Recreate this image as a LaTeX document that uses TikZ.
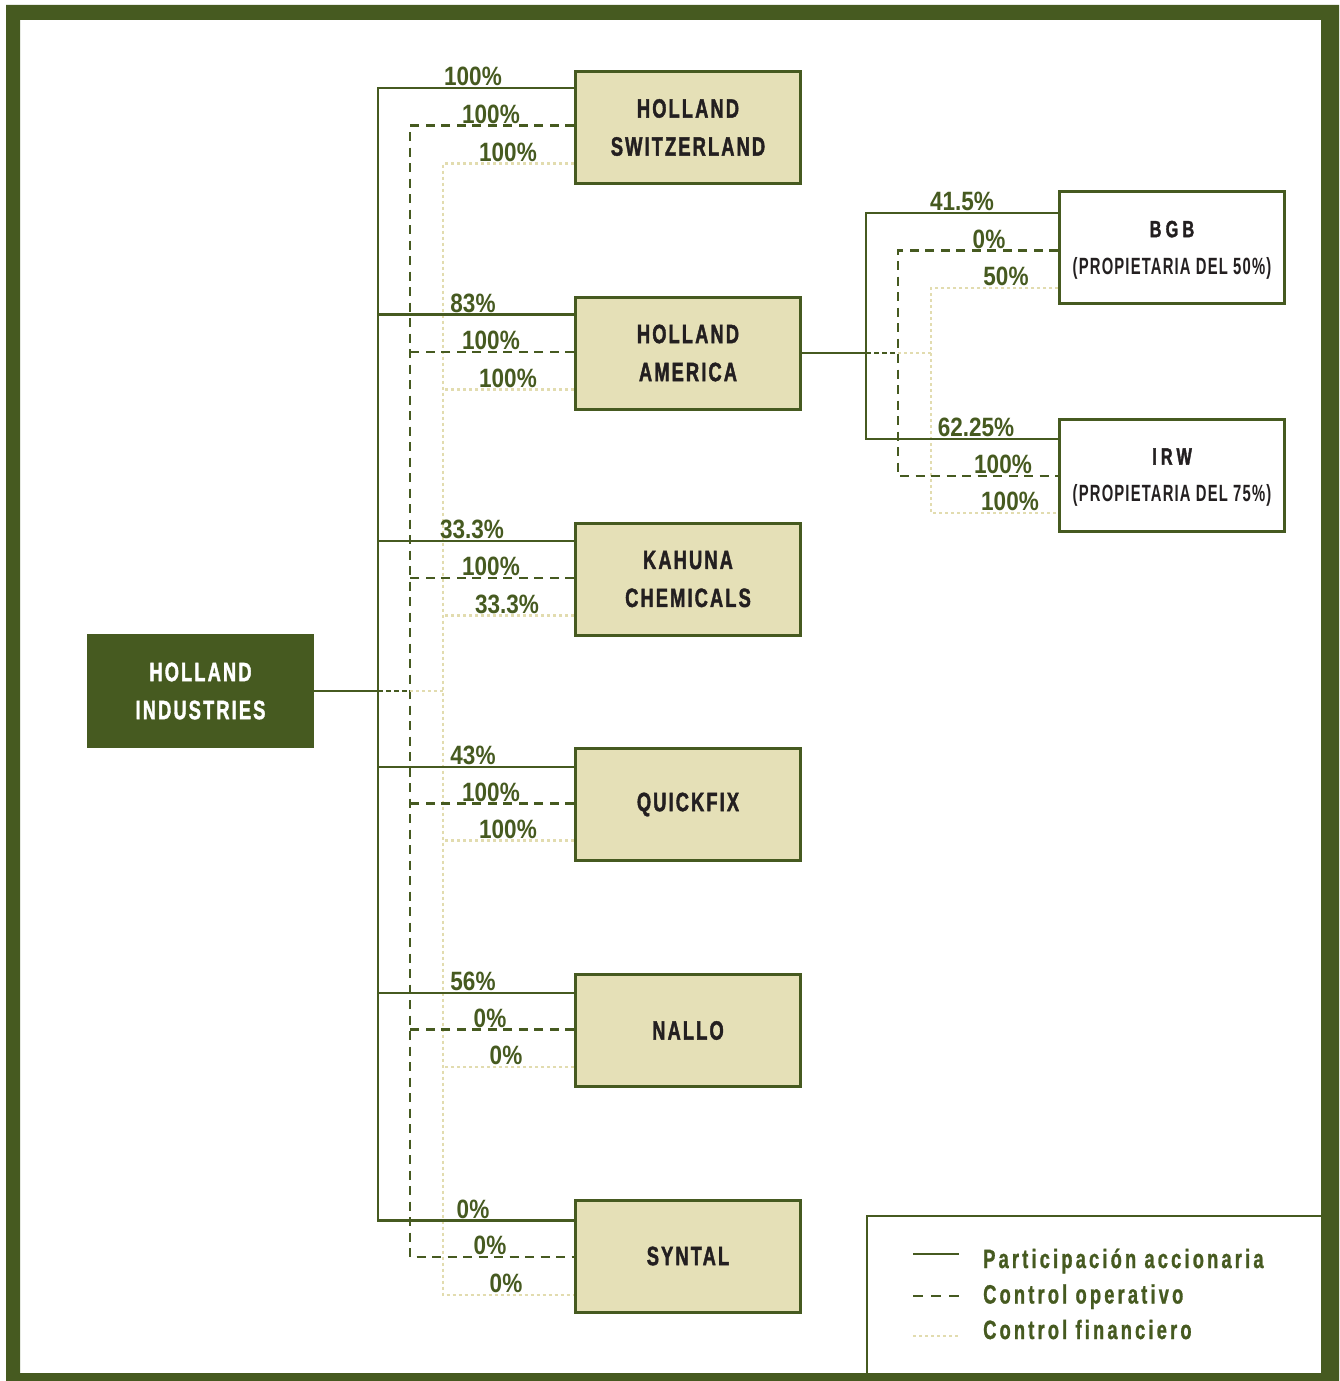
\documentclass[tikz,border=0pt]{standalone}
\usepackage{fontspec}
\setmainfont{Liberation Sans}
\newfontfamily\pctfont{Liberation Sans}[FakeStretch=0.85]
\newfontfamily\boxfont{Liberation Sans}[FakeStretch=0.69,LetterSpace=8,FakeBold=1.5]
\newfontfamily\subfont{Liberation Sans}[FakeStretch=0.63,LetterSpace=5]
\newfontfamily\codefont{Liberation Sans}[FakeStretch=0.69,LetterSpace=18,FakeBold=1.5]
\newfontfamily\legfont{Liberation Sans}[FakeStretch=0.69,LetterSpace=12,FakeBold=1]
\usetikzlibrary{calc}
\definecolor{dkgreen}{HTML}{465A20}
\definecolor{boxfill}{HTML}{E5E0B7}
\definecolor{finc}{HTML}{E2DCAF}
\definecolor{ink}{HTML}{231F20}
\begin{document}
\begin{tikzpicture}[x=1pt,y=-1pt,
  own/.style={draw=dkgreen,line width=2.8pt},
  opline/.style={draw=dkgreen,line width=2.8pt,dash pattern=on 9pt off 6.5pt},
  opshort/.style={draw=dkgreen,line width=2.8pt,dash pattern=on 5pt off 3pt},
  finline/.style={draw=finc,line width=2.8pt,dash pattern=on 3pt off 3pt},
  company/.style={draw=dkgreen,line width=3pt,fill=boxfill,minimum width=225pt,minimum height=112pt,
    inner sep=0pt,align=center,text=ink,font=\boxfont\bfseries\fontsize{26.5}{38}\selectfont},
  subsid/.style={draw=dkgreen,line width=3pt,fill=white,minimum width=225pt,minimum height=112pt,
    inner sep=0pt,align=center,text=ink,text depth=0pt,font=\fontsize{23.5}{37}\selectfont},
  parent/.style={fill=dkgreen,minimum width=227pt,minimum height=114pt,
    inner sep=0pt,align=center,text=white,font=\boxfont\bfseries\fontsize{26.5}{38}\selectfont},
  pct/.style={text=dkgreen,font=\pctfont\bfseries\fontsize{26.5}{30}\selectfont,inner sep=0pt,anchor=base},
  legtext/.style={text=dkgreen,font=\legfont\bfseries\fontsize{26.5}{30}\selectfont,inner sep=0pt,anchor=base west}
]
\useasboundingbox (0,0) rectangle (1339,1381);
\fill[white] (0,0) rectangle (1339,1381);
\fill[dkgreen,even odd rule] (6,5) rectangle (1339,1381) (20,20) rectangle (1321,1373);

% nodes
\node[parent] (hi) at (200.5,691) {HOLLAND\\INDUSTRIES};
\node[company] (hs) at (688,127.5) {HOLLAND\\SWITZERLAND};
\node[company] (ha) at (688,353) {HOLLAND\\AMERICA};
\node[company] (kc) at (688,579) {KAHUNA\\CHEMICALS};
\node[company] (qf) at (688,804.5) {QUICKFIX};
\node[company] (na) at (688,1030.5) {NALLO};
\node[company] (sy) at (688,1256) {SYNTAL};
\node[subsid] (bgb) at (1172,247.5) {{\codefont\bfseries BGB}\\{\subfont\bfseries (PROPIETARIA DEL 50\%)}};
\node[subsid] (irw) at (1172,475) {{\codefont\bfseries IRW}\\{\subfont\bfseries (PROPIETARIA DEL 75\%)}};

% trunk positions
\coordinate (xs) at (378,0);
\coordinate (xd) at (410,0);
\coordinate (xf) at (443,0);
\coordinate (rs) at (866,0);
\coordinate (rd) at (898,0);
\coordinate (rf) at (931,0);

\foreach \b/\s/\d/\f in {hs/88/125.5/163.5, ha/314.5/352/389.5, kc/541/578/615.5,
  qf/767/803.5/840.5, na/993/1029.5/1067, sy/1220.5/1257/1295}{
  \coordinate (\b-s) at (\b.west |- 0,\s);
  \coordinate (\b-d) at (\b.west |- 0,\d);
  \coordinate (\b-f) at (\b.west |- 0,\f);
}
\foreach \b/\s/\d/\f in {bgb/213/250.5/288, irw/439/476/513}{
  \coordinate (\b-s) at (\b.west |- 0,\s);
  \coordinate (\b-d) at (\b.west |- 0,\d);
  \coordinate (\b-f) at (\b.west |- 0,\f);
}

% left connectors
\draw[finline] (hs-f) -- (xf |- hs-f) -- (xf |- sy-f) -- (sy-f);
\foreach \b in {ha,kc,qf,na} \draw[finline] (\b-f) -- (xf |- \b-f);
\draw[opline] (hs-d) -- (xd |- hs-d) -- (xd |- sy-d) -- (sy-d);
\foreach \b in {ha,kc,qf,na} \draw[opline] (\b-d) -- (xd |- \b-d);
\draw[own] (hs-s) -- (xs |- hs-s) -- (xs |- sy-s) -- (sy-s);
\foreach \b in {ha,kc,qf,na} \draw[own] (xs |- \b-s) -- (\b-s);
\draw[own] (hi.east) -- (xs |- hi.east);
\draw[opshort] (xs |- hi.east) -- (xd |- hi.east);
\draw[finline] (xd |- hi.east) -- (xf |- hi.east);

% right connectors
\draw[finline] (bgb-f) -- (rf |- bgb-f) -- (rf |- irw-f) -- (irw-f);
\draw[opline] (bgb-d) -- (rd |- bgb-d) -- (rd |- irw-d) -- (irw-d);
\draw[own] (bgb-s) -- (rs |- bgb-s) -- (rs |- irw-s) -- (irw-s);
\draw[own] (ha.east) -- (rs |- ha.east);
\draw[opshort] (rs |- ha.east) -- (rd |- ha.east);
\draw[finline] (rd |- ha.east) -- (rf |- ha.east);

% percentage labels
\foreach \t/\x/\y [count=\i] in {
 100\%/473/88, 100\%/491/125.5, 100\%/508/163.5,
 83\%/473/314.5, 100\%/491/352, 100\%/508/389.5,
 33.3\%/472/541, 100\%/491/578, 33.3\%/507/615.5,
 43\%/473/767, 100\%/491/803.5, 100\%/508/840.5,
 56\%/473/993, 0\%/490/1029.5, 0\%/506/1067,
 0\%/473/1220.5, 0\%/490/1257, 0\%/506/1295,
 41.5\%/962/213, 0\%/989/250.5, 50\%/1006/288,
 62.25\%/976/439, 100\%/1003/476, 100\%/1010/513}
 \node[pct] (p\i) at (\x,\y-2.5) {\t};

% legend
\draw[dkgreen,line width=2.2pt] (867,1373) -- (867,1216) -- (1321,1216);
\coordinate (la1) at (913,1254); \coordinate (lb1) at (959,1254);
\coordinate (la2) at (913,1296); \coordinate (lb2) at (959,1296);
\coordinate (la3) at (913,1336); \coordinate (lb3) at (959,1336);
\draw[own] (la1) -- (lb1);
\draw[draw=dkgreen,line width=2.6pt,dash pattern=on 10pt off 8pt] (la2) -- (lb2);
\draw[finline] (la3) -- (lb3);
\node[legtext] (lt1) at (983,1268) {Participación accionaria};
\node[legtext] (lt2) at (983,1303.5) {Control operativo};
\node[legtext] (lt3) at (983,1339) {Control financiero};
\end{tikzpicture}
\end{document}
